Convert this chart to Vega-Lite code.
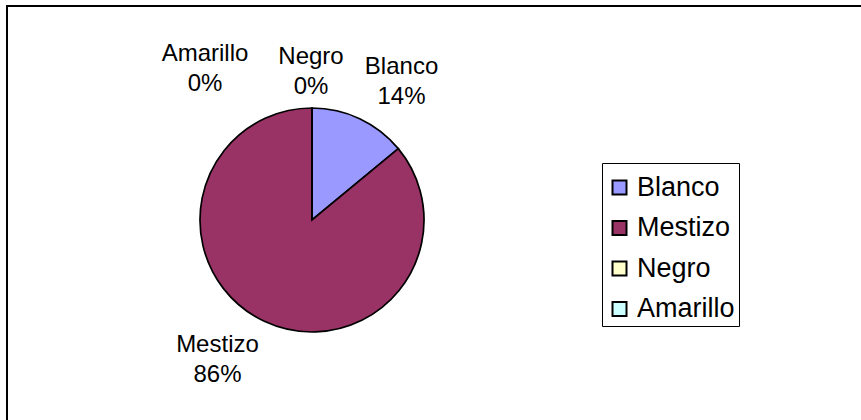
{
  "$schema": "https://vega.github.io/schema/vega-lite/v6.json",
  "width": 864,
  "height": 424,
  "autosize": "none",
  "padding": {"left": 7, "top": 6, "right": -10, "bottom": -10},
  "background": "white",
  "view": {"stroke": "black", "strokeWidth": 2},
  "config": {
    "font": "Liberation Sans"
  },
  "data": {
    "values": [
      {"cat": "Blanco", "value": 14, "order": 1},
      {"cat": "Mestizo", "value": 86, "order": 2},
      {"cat": "Negro", "value": 0, "order": 3},
      {"cat": "Amarillo", "value": 0, "order": 4}
    ]
  },
  "transform": [
    {"stack": "value", "groupby": [], "sort": [{"field": "order"}], "as": ["s0", "s1"]},
    {"calculate": "(datum.s0 + datum.s1) / 2", "as": "mid"},
    {"calculate": "datum.cat + '\\n' + datum.value + '%'", "as": "label"}
  ],
  "layer": [
    {
      "mark": {"type": "arc", "x": 305, "y": 214, "radius": 112, "stroke": "black", "strokeWidth": 1.7},
      "encoding": {
        "theta": {"field": "s0", "type": "quantitative", "scale": {"domain": [0, 100], "range": [0, 6.283185307]}},
        "theta2": {"field": "s1"},
        "color": {
          "field": "cat",
          "type": "nominal",
          "scale": {"domain": ["Blanco", "Mestizo", "Negro", "Amarillo"], "range": ["#9999FF", "#993366", "#FFFFCC", "#CCFFFF"]},
          "legend": {
            "title": " ",
            "titleFontSize": 1,
            "titlePadding": 6,
            "orient": "none",
            "legendX": 595,
            "legendY": 157,
            "strokeColor": "black",
            "fillColor": "white",
            "padding": 4,
            "symbolType": "square",
            "symbolSize": 196,
            "symbolStrokeColor": "black",
            "symbolStrokeWidth": 2,
            "symbolOpacity": 1,
            "labelFontSize": 27,
            "labelFont": "Liberation Sans",
            "labelColor": "black",
            "labelOffset": 4,
            "rowPadding": 12.5
          }
        }
      }
    },
    {
      "transform": [{"filter": "datum.cat === 'Blanco'"}],
      "mark": {"type": "text", "x": 305, "y": 214, "radius": 168, "dx": 18, "dy": -1, "fontSize": 24, "lineBreak": "\n", "lineHeight": 30, "align": "center", "baseline": "middle", "font": "Liberation Sans", "color": "black"},
      "encoding": {"theta": {"field": "mid", "type": "quantitative"}, "text": {"field": "label"}}
    },
    {
      "transform": [{"filter": "datum.cat === 'Mestizo'"}],
      "mark": {"type": "text", "x": 305, "y": 214, "radius": 168, "dx": -23, "dy": -27, "fontSize": 24, "lineBreak": "\n", "lineHeight": 30, "align": "center", "baseline": "middle", "font": "Liberation Sans", "color": "black"},
      "encoding": {"theta": {"field": "mid", "type": "quantitative"}, "text": {"field": "label"}}
    },
    {
      "transform": [{"filter": "datum.cat === 'Negro'"}],
      "mark": {"type": "text", "x": 305, "y": 214, "radius": 151, "dx": -1, "dy": -12, "fontSize": 24, "lineBreak": "\n", "lineHeight": 30, "align": "center", "baseline": "middle", "font": "Liberation Sans", "color": "black"},
      "encoding": {"theta": {"field": "mid", "type": "quantitative"}, "text": {"field": "label"}}
    },
    {
      "transform": [{"filter": "datum.cat === 'Amarillo'"}],
      "mark": {"type": "text", "x": 305, "y": 214, "radius": 151, "dx": -107, "dy": -15, "fontSize": 24, "lineBreak": "\n", "lineHeight": 30, "align": "center", "baseline": "middle", "font": "Liberation Sans", "color": "black"},
      "encoding": {"theta": {"field": "mid", "type": "quantitative"}, "text": {"field": "label"}}
    }
  ]
}
